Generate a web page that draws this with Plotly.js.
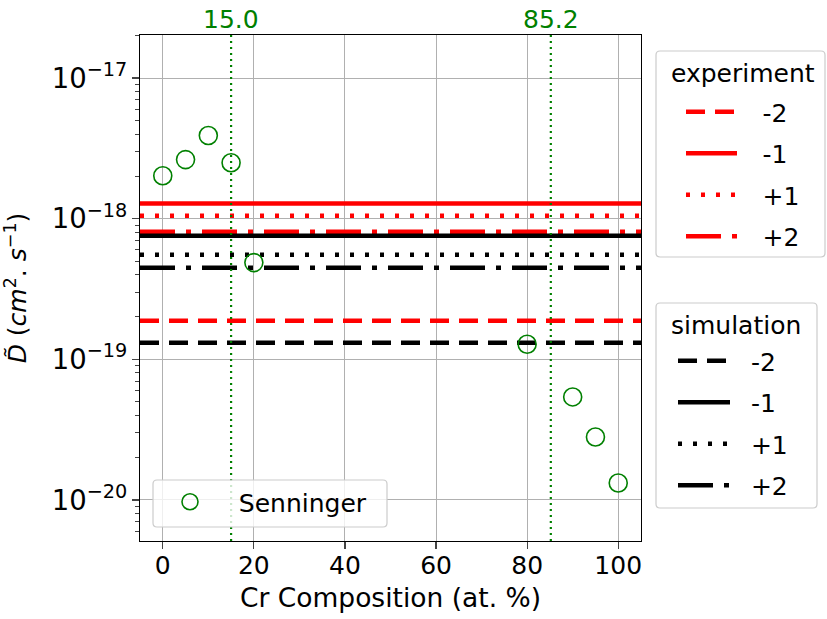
<!DOCTYPE html>
<html>
<head>
<meta charset="utf-8">
<script src="https://cdn.plot.ly/plotly-3.0.1.min.js"></script>
<style>html,body{margin:0;padding:0;background:#fff}#chart{width:827px;height:619px}</style>
</head>
<body>
<div id="chart"></div>
<script>
// ---- data ----
const senningerX = [0, 5, 10, 15, 20, 80, 90, 95, 100];
const senningerY = [2.02e-18, 2.63e-18, 3.9e-18, 2.5e-18, 4.87e-19, 1.28e-19, 5.4e-20, 2.8e-20, 1.32e-20];
const levelNames = ["-2", "-1", "+1", "+2"];
const experimentD = [1.88e-19, 1.28e-18, 1.05e-18, 8.08e-19];
const simulationD = [1.31e-19, 7.57e-19, 5.55e-19, 4.48e-19];
const verticalX = [15.0, 85.2];
const xTicks = [0, 20, 40, 60, 80, 100];
const xMin = -5, xMax = 105;

// ---- styles ----
const dashes = ["19px,10px", "solid", "4px,11px", "35px,11px,5px,11px"];
const fontFam = "DejaVu Sans";
const FS = 25;
const W = 827, H = 619, ML = 140, MR = 186, MT = 35, MB = 78;
const PW = W - ML - MR, PH = H - MT - MB;
const px2x = p => (p - ML) / PW;
const py2y = p => (H - MB - p) / PH;

const traces = [];
function addSet(vals, color, legendId, groupPrefix, pad) {
  vals.forEach((v, i) => {
    traces.push({
      x: [xMin, xMax], y: [v, v], mode: "lines", type: "scatter",
      name: pad + levelNames[i], legend: legendId, legendgroup: groupPrefix + i,
      line: {color: color, width: 4.5, dash: dashes[i]},
      hoverinfo: "skip"
    });
  });
}
addSet(experimentD, "#ff0000", "legend", "e", "\u2002\u00a0");
addSet(simulationD, "#000000", "legend2", "s", "\u00a0\u00a0");

traces.push({
  x: senningerX, y: senningerY, mode: "markers", type: "scatter",
  name: "\u00a0\u00a0\u00a0Senninger", legend: "legend3",
  marker: {symbol: "circle-open", size: 18, color: "#008000", line: {width: 1.6, color: "#008000"}}
});

// rounded legend frames (decoration)
function roundRect(x0, y0, x1, y1, r) {
  const X = px2x, Y = py2y;
  const rx = r / PW, ry = r / PH;
  const a = X(x0), b = X(x1), t = Y(y0), u = Y(y1);
  return `M${a + rx},${t} L${b - rx},${t} Q${b},${t} ${b},${t - ry} L${b},${u + ry} Q${b},${u} ${b - rx},${u} L${a + rx},${u} Q${a},${u} ${a},${u + ry} L${a},${t - ry} Q${a},${t} ${a + rx},${t} Z`;
}
const frame = (x0, y0, x1, y1) => ({
  type: "path", xref: "paper", yref: "paper", path: roundRect(x0, y0, x1, y1, 4),
  line: {color: "#cccccc", width: 1.2}, fillcolor: "rgba(255,255,255,0.8)", layer: "above"
});

const shapes = verticalX.map(v => ({
  type: "line", xref: "x", yref: "paper", x0: v, x1: v, y0: 0, y1: 1,
  line: {color: "#008000", width: 2.2, dash: "2px,4px"}, layer: "above"
}));
shapes.push(frame(656, 51, 825, 257));
shapes.push(frame(656, 303, 817, 508));
shapes.push(frame(153, 480, 387, 527));

const annotations = verticalX.map(v => ({
  xref: "x", yref: "paper", x: v, y: 1, yanchor: "bottom", yshift: -1,
  text: v.toFixed(1), showarrow: false,
  font: {family: fontFam, size: FS, color: "#008000"}
}));
annotations.push({xref: "paper", yref: "paper", x: px2x(743), y: py2y(73), xanchor: "center", yanchor: "middle",
  text: "experiment", showarrow: false, font: {family: fontFam, size: FS, color: "#000"}});
annotations.push({xref: "paper", yref: "paper", x: px2x(736), y: py2y(325), xanchor: "center", yanchor: "middle",
  text: "simulation", showarrow: false, font: {family: fontFam, size: FS, color: "#000"}});

const legBase = {
  bgcolor: "rgba(0,0,0,0)", borderwidth: 0,
  font: {family: fontFam, size: FS, color: "#000"},
  xanchor: "left", yanchor: "top", itemwidth: 51,
  traceorder: "grouped", tracegroupgap: 6
};

const layout = {
  width: W, height: H,
  margin: {l: ML, r: MR, t: MT, b: MB},
  paper_bgcolor: "#fff", plot_bgcolor: "#fff",
  font: {family: fontFam, size: FS, color: "#000"},
  xaxis: {
    range: [xMin, xMax], tickvals: xTicks, ticks: "outside", ticklen: 7, tickwidth: 1.2,
    ticklabelstandoff: -5,
    showgrid: true, gridcolor: "#b0b0b0", gridwidth: 1,
    showline: true, linecolor: "#000", linewidth: 1.3, mirror: true, zeroline: false,
    tickfont: {family: fontFam, size: FS},
    title: {text: "Cr Composition (at. %)", font: {family: fontFam, size: 26.5}, standoff: 9}
  },
  yaxis: {
    type: "log", range: [-20.292, -16.694], dtick: 1, exponentformat: "power",
    ticks: "outside", ticklen: 7, tickwidth: 1.2,
    minor: {dtick: "D1", ticks: "outside", ticklen: 4, tickwidth: 1, showgrid: false},
    showgrid: true, gridcolor: "#b0b0b0", gridwidth: 1,
    showline: true, linecolor: "#000", linewidth: 1.3, mirror: true, zeroline: false,
    tickfont: {family: fontFam, size: 22},
    title: {text: "<i>D̃</i> (<i>cm</i><sup>2</sup>. <i>s</i><sup>−1</sup>)", font: {family: fontFam, size: 25}, standoff: 26}
  },
  showlegend: true,
  legend: Object.assign({}, legBase, {x: px2x(681), y: py2y(89)}),
  legend2: Object.assign({}, legBase, {x: px2x(673), y: py2y(338), itemwidth: 52}),
  legend3: Object.assign({}, legBase, {x: px2x(165), y: py2y(479), itemwidth: 40}),
  shapes: shapes,
  annotations: annotations
};

Plotly.newPlot("chart", traces, layout, {displayModeBar: false, staticPlot: true});
</script>
</body>
</html>
